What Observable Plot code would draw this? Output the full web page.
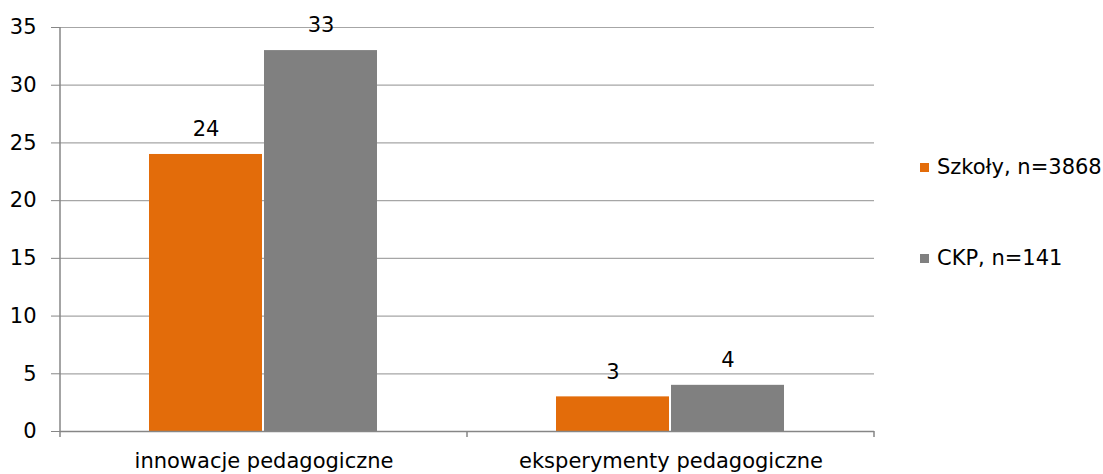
<!DOCTYPE html>
<html>
<head>
<meta charset="utf-8">
<script src="https://cdn.jsdelivr.net/npm/d3@7"></script>
<script src="https://cdn.jsdelivr.net/npm/@observablehq/plot@0.6"></script>
<style>
  body { margin: 0; background: #fff; }
  #wrap { position: relative; width: 1103px; height: 474px; font-family: "DejaVu Sans", sans-serif; }
  .legend { position: absolute; left: 920px; height: 20px; font-size: 21px; line-height: 20px; color: #000; display: flex; align-items: center; white-space: nowrap; }
  .legend span.sw { display: inline-block; width: 9px; height: 9px; margin-right: 8px; }
</style>
</head>
<body>
<div id="wrap"></div>
<script>
const categories = ["innowacje pedagogiczne", "eksperymenty pedagogiczne"];
const seriesNames = ["Szkoły, n=3868", "CKP, n=141"];
const seriesColors = ["#E36C0A", "#808080"];
const szkolyValues = [24, 3];
const ckpValues = [33, 4];
const yTicks = [0, 5, 10, 15, 20, 25, 30, 35];

const data = [];
categories.forEach((c, i) => {
  data.push({category: c, series: seriesNames[0], value: szkolyValues[i]});
  data.push({category: c, series: seriesNames[1], value: ckpValues[i]});
});

const font = "DejaVu Sans";
const fs = 21;
const plot = Plot.plot({
  width: 1103,
  height: 474,
  marginLeft: 60,
  marginRight: 229,
  marginTop: 27,
  marginBottom: 43,
  style: {fontFamily: font, fontSize: fs + "px", color: "#000", background: "#fff", overflow: "visible"},
  fx: {domain: categories, padding: 0, label: null},
  x: {domain: seriesNames, paddingInner: 0.015, paddingOuter: 0.77, axis: null},
  y: {domain: [0, 35], label: null, axis: null},
  color: {domain: seriesNames, range: seriesColors},
  marks: [
    Plot.ruleY(yTicks.filter(d => d > 0), {stroke: "#a6a6a6", strokeWidth: 1.2}),
    Plot.barY(data, {fx: "category", x: "series", y: "value", fill: "series"}),
    Plot.ruleY([0], {stroke: "#868686", strokeWidth: 1.5}),
    Plot.text(data, {fx: "category", x: "series", y: "value", text: d => String(d.value), dy: -25, fill: "#000", fontSize: fs}),
    Plot.axisY({ticks: yTicks, tickSize: 9, tickPadding: 15, stroke: "#868686", fill: "#000", fontSize: fs, label: null}),
    Plot.axisFx({anchor: "bottom", tickSize: 0, tickPadding: 22, fill: "#000", fontSize: fs, label: null})
  ]
});

// axis line and category-boundary ticks, from the plot's own scales
const fx = plot.scale("fx"), y = plot.scale("y");
const svg = d3.select(plot);
const y0 = y.apply(0), yTop = y.apply(35);
const left = fx.apply(categories[0]);
svg.append("line").attr("x1", left).attr("x2", left).attr("y1", yTop).attr("y2", y0)
  .attr("stroke", "#868686").attr("stroke-width", 1.5);
const edges = categories.map(c => fx.apply(c)).concat([fx.apply(categories[categories.length - 1]) + fx.bandwidth]);
edges.forEach(e => {
  svg.append("line").attr("x1", e).attr("x2", e).attr("y1", y0).attr("y2", y0 + 6)
    .attr("stroke", "#868686").attr("stroke-width", 1.5);
});

const wrap = document.getElementById("wrap");
wrap.appendChild(plot);
const legendTops = [157, 248];
seriesNames.forEach((s, i) => {
  const d = document.createElement("div");
  d.className = "legend";
  d.style.top = legendTops[i] + "px";
  d.innerHTML = `<span class="sw" style="background:${seriesColors[i]}"></span>`;
  d.appendChild(document.createTextNode(s));
  wrap.appendChild(d);
});
</script>
</body>
</html>
